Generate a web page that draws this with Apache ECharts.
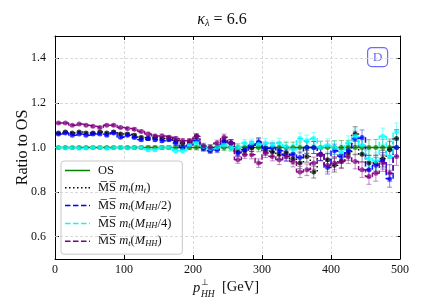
<!DOCTYPE html>
<html>
<head>
<meta charset="utf-8">
<script src="https://cdn.jsdelivr.net/npm/echarts@6/dist/echarts.min.js"></script>
<style>html,body{margin:0;padding:0;background:#fff;}#c{width:444px;height:305px;}</style>
</head>
<body>
<div id="c"></div>
<script>
// ---- data ----
const binCenters = [5,15,25,35,45,55,65,75,85,95,105,115,125,135,145,155,165,175,185,195,205,215,225,235,245,255,265,275,285,295,305,315,325,335,345,355,365,375,385,395,405,415,425,435,445,455,465,475,485,495];
const yTicks = [0.6, 0.8, 1.0, 1.2, 1.4];
const seriesNames = ['OS', 'MS mt(mt)', 'MS mt(MHH/2)', 'MS mt(MHH/4)', 'MS mt(MHH)'];
const osRatio = [1,1,1,1,1,1,1,1,1,1,1,1,1,1,1,1,1,1,1,1,1,1,1,1,1,1,1,1,1,1,1,1,1,1,1,1,1,1,1,1,1,1,1,1,1,1,1,1,1,1];
const msMtMt = [1.065,1.07,1.065,1.07,1.065,1.065,1.07,1.065,1.07,1.06,1.06,1.055,1.045,1.04,1.045,1.04,1.04,1.03,1.02,1.025,1.05,1.0,0.99,1.0,1.03,1.02,0.98,0.985,1.0,1.02,0.985,0.98,0.97,0.975,0.95,0.93,0.96,0.89,0.97,0.945,0.92,0.94,0.975,1.06,0.97,0.93,0.93,0.95,0.99,1.04];
const msHalf = [1.06,1.065,1.055,1.06,1.055,1.06,1.06,1.055,1.065,1.046,1.055,1.045,1.035,1.04,1.035,1.03,1.035,1.02,1.0,1.01,1.03,0.995,0.985,0.99,1.025,1.02,0.975,0.99,1.01,1.025,0.995,1.0,0.985,0.965,0.97,0.955,1.0,1.0,0.97,0.91,0.985,0.96,0.985,1.04,1.045,0.9,0.92,0.94,0.86,1.0];
const msQuarter = [1.0,0.998,1.0,0.997,0.998,1.0,1.0,0.997,1.0,1.0,0.998,1.0,1.0,0.99,0.99,1.0,1.0,0.985,0.985,1.01,1.02,1.005,0.995,1.0,1.01,1.0,1.0,1.02,1.02,1.015,1.02,1.01,1.02,1.005,0.99,1.04,1.03,1.04,1.0,1.01,1.0,0.98,1.02,1.05,1.01,0.95,0.94,1.05,0.96,1.07];
const msFull = [1.11,1.11,1.10,1.105,1.10,1.095,1.09,1.10,1.10,1.09,1.085,1.082,1.072,1.061,1.052,1.052,1.046,1.04,1.03,1.03,1.05,1.007,1.0,1.02,1.046,1.02,0.945,0.967,0.967,0.93,0.975,0.96,0.945,0.96,0.937,0.89,0.9,0.93,0.967,0.92,0.93,0.937,0.96,0.937,0.9,0.87,0.885,0.93,0.885,0.96];
const statErr = [0.003,0.003,0.003,0.003,0.004,0.004,0.004,0.004,0.005,0.005,0.005,0.006,0.006,0.007,0.007,0.008,0.008,0.009,0.010,0.010,0.011,0.012,0.012,0.013,0.014,0.015,0.016,0.016,0.018,0.019,0.020,0.020,0.022,0.023,0.024,0.025,0.026,0.027,0.028,0.029,0.030,0.031,0.032,0.033,0.034,0.035,0.036,0.037,0.038,0.040];

const colors = ['#008000', '#000000', '#0000ff', '#00ffff', '#800080'];
const dashes = ['solid', [1.5, 2.5], [5.5, 2.4], [5.5, 2.4], [5.5, 2.4]];
const values = [osRatio, msMtMt, msHalf, msQuarter, msFull];

// legend line-sample icons (25 x 1.5 px)
const iconSolid = 'path://M0,0H25V1.5H0Z';
const iconDotted = 'path://M0,0h1.5v1.5h-1.5z M4,0h1.5v1.5h-1.5z M8,0h1.5v1.5h-1.5z M12,0h1.5v1.5h-1.5z M16,0h1.5v1.5h-1.5z M20,0h1.5v1.5h-1.5z M23.5,0h1.5v1.5h-1.5z';
const iconDashed = 'path://M0,0h5.5v1.5h-5.5z M8,0h5.5v1.5h-5.5z M16,0h5.5v1.5h-5.5z M24,0h1v1.5h-1z';
const legendIcons = [iconSolid, iconDotted, iconDashed, iconDashed, iconDashed];

const SERIF = 'Liberation Serif';
const chart = echarts.init(document.getElementById('c'), null, {renderer: 'canvas'});

const series = [];
series.push({
  type: 'line', name: '_grid', data: [], silent: true, z: 0,
  markLine: {
    silent: true, symbol: 'none', label: {show: false},
    lineStyle: {color: '#d0d0d0', type: [3, 2], width: 0.8},
    data: yTicks.map(v => ({yAxis: v}))
  }
});
values.forEach((vals, k) => {
  series.push({
    type: 'custom', name: seriesNames[k] + ' err', z: 2 + k,
    silent: true,
    data: binCenters.map((x, i) => [x, vals[i] - statErr[i], vals[i] + statErr[i]]),
    renderItem: function (params, api) {
      const x = api.value(0);
      const p1 = api.coord([x, api.value(1)]);
      const p2 = api.coord([x, api.value(2)]);
      const cap = 2.5;
      const st = {stroke: colors[k], lineWidth: 1, opacity: 0.45};
      return {type: 'group', children: [
        {type: 'line', shape: {x1: p1[0], y1: p1[1], x2: p2[0], y2: p2[1]}, style: st},
        {type: 'line', shape: {x1: p1[0] - cap, y1: p1[1], x2: p1[0] + cap, y2: p1[1]}, style: st},
        {type: 'line', shape: {x1: p2[0] - cap, y1: p2[1], x2: p2[0] + cap, y2: p2[1]}, style: st}
      ]};
    }
  });
  series.push({
    type: 'line', name: seriesNames[k], step: 'middle', z: 10 + k,
    data: binCenters.map((x, i) => [x, vals[i]]),
    symbol: 'circle', symbolSize: 5,
    itemStyle: {color: colors[k], opacity: 0.7},
    lineStyle: {color: colors[k], width: 1.5, type: dashes[k], opacity: 0.95},
    emphasis: {disabled: true},
    animation: false
  });
});

const msLabel = 'M\u0305S\u0305';
const LFS = 12.5;
const legendRich = {
  rm: {fontFamily: SERIF, fontSize: LFS, color: '#111', lineHeight: 14},
  it: {fontFamily: SERIF, fontStyle: 'italic', fontSize: LFS, color: '#111', lineHeight: 14},
  sub: {fontFamily: SERIF, fontStyle: 'italic', fontSize: 8.5, color: '#111', lineHeight: 14, verticalAlign: 'bottom'}
};
const legendText = {
  'OS': '{rm|OS}',
  'MS mt(mt)': '{rm|' + msLabel + ' }{it|m}{sub|t}{rm|(}{it|m}{sub|t}{rm|)}',
  'MS mt(MHH/2)': '{rm|' + msLabel + ' }{it|m}{sub|t}{rm|(}{it|M}{sub|HH}{rm|/2)}',
  'MS mt(MHH/4)': '{rm|' + msLabel + ' }{it|m}{sub|t}{rm|(}{it|M}{sub|HH}{rm|/4)}',
  'MS mt(MHH)': '{rm|' + msLabel + ' }{it|m}{sub|t}{rm|(}{it|M}{sub|HH}{rm|)}'
};

const axisFont = {fontFamily: SERIF, fontSize: 12, color: '#111'};

chart.setOption({
  animation: false,
  backgroundColor: '#fff',
  grid: {left: 55, right: 44, top: 36, bottom: 46, outerBoundsMode: 'none', containLabel: false},
  xAxis: [{
    type: 'value', min: 0, max: 500, interval: 100,
    axisLine: {show: true, onZero: false, lineStyle: {color: '#000', width: 1}},
    axisTick: {show: true, inside: true, length: 4, lineStyle: {color: '#000'}},
    axisLabel: Object.assign({margin: 5}, axisFont),
    splitLine: {show: true, lineStyle: {color: '#d0d0d0', type: [3, 2], width: 0.8}}
  }, {
    type: 'value', min: 0, max: 500, interval: 100, position: 'top',
    axisLine: {show: true, onZero: false, lineStyle: {color: '#000', width: 1}},
    axisTick: {show: true, inside: true, length: 4, lineStyle: {color: '#000'}},
    axisLabel: {show: false}, splitLine: {show: false}
  }],
  yAxis: [{
    type: 'value', min: 0.5, max: 1.5,
    name: 'Ratio to OS', nameLocation: 'middle', nameGap: 24, nameMoveOverlap: false,
    nameTextStyle: {fontFamily: SERIF, fontSize: 16, color: '#111'},
    axisLine: {show: true, onZero: false, lineStyle: {color: '#000', width: 1}},
    axisTick: {show: true, inside: true, length: 4, customValues: yTicks, lineStyle: {color: '#000'}},
    axisLabel: Object.assign({margin: 9, customValues: yTicks, formatter: v => v.toFixed(1)}, axisFont),
    splitLine: {show: false}
  }, {
    type: 'value', min: 0.5, max: 1.5, position: 'right',
    axisLine: {show: true, onZero: false, lineStyle: {color: '#000', width: 1}},
    axisTick: {show: true, inside: true, length: 4, customValues: yTicks, lineStyle: {color: '#000'}},
    axisLabel: {show: false}, splitLine: {show: false}
  }],
  legend: {
    orient: 'vertical', left: 61, top: 161,
    data: seriesNames.map((n, k) => ({name: n, icon: legendIcons[k], itemStyle: {color: colors[k], opacity: 1, borderWidth: 0}})),
    itemWidth: 25, itemHeight: 1.5, itemGap: 4.3, symbolKeepAspect: false,
    padding: [3, 11, 6, 4],
    backgroundColor: 'rgba(255,255,255,0.85)',
    borderColor: '#c8c8c8', borderWidth: 1, borderRadius: 3,
    selectedMode: false,
    formatter: name => legendText[name],
    textStyle: {rich: legendRich, padding: [0, 0, 0, 3]}
  },
  graphic: [
    {type: 'text', left: 'center', top: 12, z: 100,
      style: {text: '{it|κ}{sub|λ}{rm| = 6.6}', rich: {
        it: {fontFamily: SERIF, fontStyle: 'italic', fontSize: 16, fill: '#111', lineHeight: 18},
        sub: {fontFamily: SERIF, fontStyle: 'italic', fontSize: 10.5, fill: '#111', lineHeight: 18, verticalAlign: 'bottom'},
        rm: {fontFamily: SERIF, fontSize: 16, fill: '#111', lineHeight: 18}
      }}},
    {type: 'group', left: 193, top: 278, z: 100, children: [
      {type: 'text', x: 0, y: 3, style: {text: 'p', font: 'italic 14.5px "Liberation Serif"', fill: '#111'}},
      {type: 'text', x: 8, y: 0, style: {text: '⊥', font: '8.5px "DejaVu Sans"', fill: '#111'}},
      {type: 'text', x: 8, y: 11, style: {text: 'HH', font: 'italic 9.5px "Liberation Serif"', fill: '#111'}},
      {type: 'text', x: 29, y: 2, style: {text: '[GeV]', font: '14.5px "Liberation Serif"', fill: '#111'}}
    ]},
    {type: 'group', left: 367, top: 47, z: 100, children: [
      {type: 'rect', shape: {x: 0, y: 0, width: 20, height: 19, r: 4},
        style: {fill: '#fff', stroke: '#6b6bff', lineWidth: 1.2}},
      {type: 'text', x: 10, y: 9.5, style: {text: 'D', font: '13.5px "Liberation Serif"', fill: '#6b6bff', align: 'center', verticalAlign: 'middle'}}
    ]}
  ],
  series: series
});
</script>
</body>
</html>
